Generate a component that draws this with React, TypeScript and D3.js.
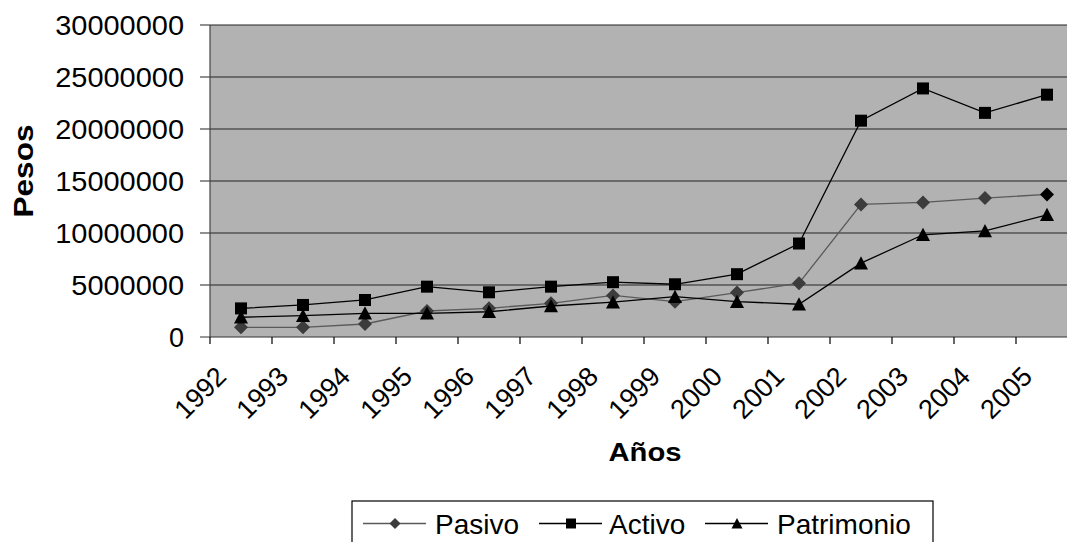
import React from 'react';
import * as d3 from 'd3';

// values
const years = ['1992', '1993', '1994', '1995', '1996', '1997', '1998', '1999', '2000', '2001', '2002', '2003', '2004', '2005'];
const pasivo = [930000, 930000, 1250000, 2500000, 2760000, 3240000, 4000000, 3400000, 4270000, 5170000, 12750000, 12940000, 13360000, 13710000];
const activo = [2750000, 3080000, 3560000, 4840000, 4300000, 4840000, 5270000, 5070000, 6040000, 8990000, 20800000, 23900000, 21550000, 23300000];
const patrimonio = [1900000, 2050000, 2280000, 2280000, 2430000, 2980000, 3350000, 3880000, 3400000, 3150000, 7100000, 9830000, 10200000, 11750000];
const yTicks = [0, 5000000, 10000000, 15000000, 20000000, 25000000, 30000000];

const font = '"Liberation Sans", Arial, sans-serif';

const diamond = (s: number) => `M0,${-s}L${s},0L0,${s}L${-s},0Z`;
const square = (s: number) => `M${-s},${-s}H${s}V${s}H${-s}Z`;
const triangle = (s: number) => `M0,${-s}L${s},${s * 0.9}L${-s},${s * 0.9}Z`;

export default function App() {
  const left = 210, top = 25, bottom = 337;
  const band = 62;
  const x = d3.scaleBand().domain(years).range([left, left + band * years.length]);
  const y = d3.scaleLinear().domain([0, 30000000]).range([bottom, top]);
  const cx = (d: string) => (x(d) as number) + x.bandwidth() / 2;

  const line = d3.line<number>()
    .x((_, i) => cx(years[i]))
    .y(d => y(d));

  const series = [
    { name: 'Pasivo', data: pasivo, stroke: '#5a5a5a', fill: '#3c3c3c', shape: diamond, size: 7, legendSize: 5.5 },
    { name: 'Activo', data: activo, stroke: '#000', fill: '#000', shape: square, size: 6, legendSize: 5 },
    { name: 'Patrimonio', data: patrimonio, stroke: '#000', fill: '#000', shape: triangle, size: 7, legendSize: 5.5 },
  ];

  const legendItems = [
    { lx: 363, tx: 435 },
    { lx: 539, tx: 609 },
    { lx: 705, tx: 777 },
  ];

  return (
    <svg width={1067} height={542} style={{ position: 'fixed', left: 0, top: 0, background: '#fff' }} fontFamily={font}>
      <rect x={left} y={top} width={band * years.length} height={bottom - top} fill="#b2b2b2" />
      {yTicks.map(t => (
        <g key={t}>
          <line x1={200} x2={left + band * years.length} y1={y(t)} y2={y(t)} stroke={t === 0 ? '#333' : '#222'} strokeWidth={1.2} />
          <text x={184} y={y(t)} dy="0.36em" textAnchor="end" fontSize={27}
            textLength={t === 0 ? undefined : String(t).length * 16.1} lengthAdjust="spacingAndGlyphs">{t}</text>
        </g>
      ))}
      <line x1={left} x2={left} y1={top} y2={bottom} stroke="#444" strokeWidth={1.2} />
      {d3.range(years.length + 1).map(i => (
        <line key={i} x1={left + i * band} x2={left + i * band} y1={bottom} y2={bottom + 7} stroke="#000" strokeWidth={1.2} />
      ))}
      {years.map(d => (
        <text key={d} transform={`translate(${cx(d) - 13},${378}) rotate(-45)`} textAnchor="end" fontSize={27}>{d}</text>
      ))}
      {series.map(s => (
        <g key={s.name}>
          <path d={line(s.data) || ''} fill="none" stroke={s.stroke} strokeWidth={1.3} />
          {s.data.map((v, i) => (
            <path key={i} d={s.shape(s.size)} transform={`translate(${cx(years[i])},${y(v)})`}
              fill={s.name === 'Pasivo' && i === years.length - 1 ? '#000' : s.fill} />
          ))}
        </g>
      ))}
      <text transform="translate(33,171) rotate(-90)" textAnchor="middle" fontSize={27} fontWeight="bold"
        textLength={93} lengthAdjust="spacingAndGlyphs">Pesos</text>
      <text x={645} y={461} textAnchor="middle" fontSize={25} fontWeight="bold"
        textLength={73} lengthAdjust="spacingAndGlyphs">Años</text>
      <rect x={352} y={501} width={581} height={50} fill="#fff" stroke="#000" strokeWidth={1.2} />
      {series.map((s, k) => (
        <g key={s.name}>
          <line x1={legendItems[k].lx} x2={legendItems[k].lx + 63} y1={523.5} y2={523.5} stroke={s.stroke} strokeWidth={1.3} />
          <path d={s.shape(s.legendSize)} transform={`translate(${legendItems[k].lx + 32},${523.5})`} fill={s.fill} />
          <text x={legendItems[k].tx} y={534} fontSize={28}>{s.name}</text>
        </g>
      ))}
    </svg>
  );
}
